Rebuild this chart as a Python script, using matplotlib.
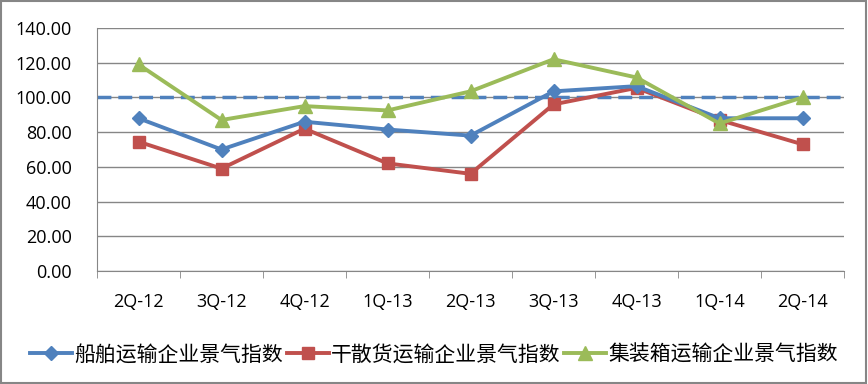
import matplotlib
matplotlib.use("Agg")
import matplotlib.pyplot as plt
import numpy as np
from matplotlib.patches import Rectangle

plt.rcParams['font.family'] = ['Noto Sans CJK SC', 'DejaVu Sans']

categories = ["2Q-12", "3Q-12", "4Q-12", "1Q-13", "2Q-13", "3Q-13", "4Q-13", "1Q-14", "2Q-14"]
shipping = [88, 70, 86, 81.5, 78, 103.5, 106.5, 88, 88]
dry_bulk = [74.5, 59, 82, 62, 56, 96, 105.5, 87, 73]
container = [119, 87, 95, 92.5, 103.5, 122, 111.5, 85, 100]
baseline = 100
series_names = ["船舶运输企业景气指数", "干散货运输企业景气指数", "集装箱运输企业景气指数"]
yticks = [0, 20, 40, 60, 80, 100, 120, 140]

fig = plt.figure(figsize=(8.68, 3.84), dpi=100)
ax = fig.add_axes([97/868, 1-271/384, (844-97)/868, (271-28)/384])

x = np.arange(len(categories))
ax.axhline(baseline, color='#4F81BD', lw=2.5, ls=(0, (4, 2)), zorder=2)
ax.plot(x, shipping, color='#4F81BD', lw=2.8, marker='D', ms=7, label=series_names[0], zorder=4)
ax.plot(x, dry_bulk, color='#C0504D', lw=2.8, marker='s', ms=9, label=series_names[1], zorder=3)
ax.plot(x, container, color='#9BBB59', lw=2.8, marker='^', ms=10, label=series_names[2], zorder=5)

ax.set_xlim(-0.5, len(categories) - 0.5)
ax.set_ylim(0, 140)
ax.set_yticks(yticks)
ax.set_yticklabels([f"{v:.2f}" for v in yticks], fontsize=13, family=['Open Sans'])
ax.set_xticks(x)
ax.set_xticklabels(categories, fontsize=13, family=['Open Sans'])
ax.set_xticks(np.arange(len(categories) + 1) - 0.5, minor=True)
ax.tick_params(axis='x', which='major', length=0, pad=16)
ax.tick_params(axis='x', which='minor', length=5, color='#868686')
ax.tick_params(axis='y', length=0, pad=18)
ax.grid(axis='y', color='#868686', lw=1)
ax.set_axisbelow(True)
for s in ['top', 'right']:
    ax.spines[s].set_visible(False)
ax.spines['left'].set_color('#868686')
ax.spines['bottom'].set_color('#868686')

fig.legend(loc='lower center', bbox_to_anchor=(0.5, 0.0), ncol=3, frameon=False,
           fontsize=15, handlelength=2.0, handletextpad=0.1, columnspacing=0.2)

fig.patches.append(Rectangle((0.001, 0.002), 0.997, 0.995, transform=fig.transFigure,
                             fill=False, edgecolor='#868686', lw=1.5))
fig.savefig("out.png", dpi=100)
